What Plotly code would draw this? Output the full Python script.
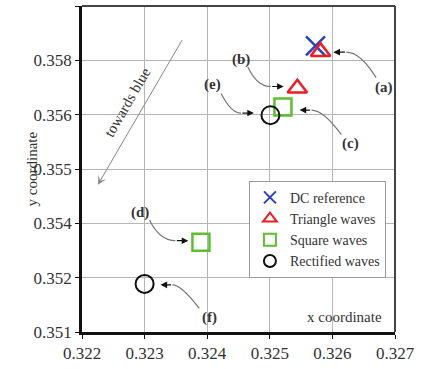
import plotly.graph_objects as go

# ---- data ----
dc_x = [0.32573]
dc_y = [0.35802]
tri_x = [0.32581, 0.32544]
tri_y = [0.35788, 0.35698]
sq_x = [0.32521, 0.32390]
sq_y = [0.35652, 0.35320]
rect_x = [0.32501, 0.32300]
rect_y = [0.35632, 0.35218]

x_ticks = [0.322, 0.323, 0.324, 0.325, 0.326, 0.327]
y_ticks = [0.351 + i * 0.008 / 6 for i in range(7)]
y_ticktext = ["0.351", "0.352", "0.354", "0.355", "0.356", "0.358", "0.359"]

# ---- layout geometry (pixels) ----
W_FIG, H_FIG = 421, 369
L, R, T, B = 82, 24, 6, 31
PW, PH = W_FIG - L - R, H_FIG - T - B
X0, X1 = 0.322, 0.327
Y0, Y1 = 0.351, 0.359


def px2x(px):
    return X0 + (px - L) / PW * (X1 - X0)


def py2y(py):
    return Y1 - (py - T) / PH * (Y1 - Y0)


SERIF = "Liberation Serif, Times New Roman, serif"
TXT = "#333333"

fig = go.Figure()
fig.add_trace(go.Scatter(x=dc_x, y=dc_y, mode="markers", name="DC reference",
                         marker=dict(symbol="x-thin-open", size=19, color="#2b3fc0",
                                     line=dict(width=2.5, color="#2b3fc0"))))
fig.add_trace(go.Scatter(x=tri_x, y=tri_y, mode="markers", name="Triangle waves",
                         marker=dict(symbol="triangle-up-open", size=17, color="#ee1c24",
                                     line=dict(width=2.5))))
fig.add_trace(go.Scatter(x=sq_x, y=sq_y, mode="markers", name="Square waves",
                         marker=dict(symbol="square-open", size=17, color="#5bbf2e",
                                     line=dict(width=2.5))))
fig.add_trace(go.Scatter(x=rect_x, y=rect_y, mode="markers", name="Rectified waves",
                         marker=dict(symbol="circle-open", size=18, color="#111111",
                                     line=dict(width=2))))

# annotation callouts: label, label pos, curve start, control, arrow tail, arrow tip (pixels)
callouts = [
    ("(a)", (386, 89), (378, 79), (362, 53), (348, 53), (335, 53)),
    ("(b)", (242, 60), (249, 68), (258, 88), (272, 88), (285, 88)),
    ("(e)", (213, 86), (222, 95), (232, 115), (242, 115), (255, 115)),
    ("(c)", (352, 146), (343, 137), (325, 112), (313, 112), (301, 112)),
    ("(d)", (140, 216), (150, 224), (160, 245), (176, 245), (189, 245)),
    ("(f)", (210, 323), (200, 314), (182, 290), (173, 290), (161, 290)),
]

shapes = []
annotations = []
for lab, lp, s, c, tail, tip in callouts:
    path = "M %f,%f Q %f,%f %f,%f" % (px2x(s[0]), py2y(s[1]), px2x(c[0]), py2y(c[1]),
                                       px2x(tail[0]), py2y(tail[1]))
    shapes.append(dict(type="path", path=path, xref="x", yref="y",
                       line=dict(color="#777777", width=1.2)))
    annotations.append(dict(x=px2x(tip[0]), y=py2y(tip[1]), xref="x", yref="y",
                            ax=tail[0] - tip[0], ay=tail[1] - tip[1], text="",
                            showarrow=True, arrowhead=2, arrowsize=1.1, arrowwidth=1.2,
                            arrowcolor="#111111"))
    annotations.append(dict(x=px2x(lp[0]), y=py2y(lp[1]), xref="x", yref="y",
                            text="<b>%s</b>" % lab, showarrow=False,
                            font=dict(family=SERIF, size=15, color=TXT)))

# towards blue arrow
annotations.append(dict(x=px2x(98), y=py2y(188), xref="x", yref="y",
                        ax=183 - 98, ay=42 - 188, text="", showarrow=True,
                        arrowhead=3, arrowsize=1.5, arrowwidth=1, arrowcolor="#888888"))
annotations.append(dict(x=px2x(128), y=py2y(104), xref="x", yref="y",
                        text="towards blue", textangle=-60, showarrow=False,
                        font=dict(family=SERIF, size=15, color=TXT)))
# axis titles
annotations.append(dict(x=px2x(346), y=py2y(323), xref="x", yref="y",
                        text="x coordinate", showarrow=False,
                        font=dict(family=SERIF, size=15, color=TXT)))
annotations.append(dict(x=(22 - L) / PW, y=(H_FIG - B - 172) / PH,
                        xref="paper", yref="paper",
                        text="y coordinate", showarrow=False, textangle=-90,
                        font=dict(family=SERIF, size=15, color=TXT)))

# top/right border
shapes.append(dict(type="line", xref="paper", yref="paper", x0=0, x1=1, y0=1, y1=1,
                   line=dict(color="#444444", width=2)))
shapes.append(dict(type="line", xref="paper", yref="paper", x0=1, x1=1, y0=0, y1=1,
                   line=dict(color="#444444", width=2)))

fig.update_layout(
    width=W_FIG, height=H_FIG,
    margin=dict(l=L, r=R, t=T, b=B),
    paper_bgcolor="white", plot_bgcolor="white",
    showlegend=True,
    legend=dict(x=(250 - L) / PW, y=(H_FIG - B - 184) / PH, xanchor="left", yanchor="top",
                bgcolor="white", bordercolor="#999999", borderwidth=1,
                font=dict(family=SERIF, size=14, color=TXT),
                itemsizing="constant", tracegroupgap=0),
    shapes=shapes,
    annotations=annotations,
)
fig.update_xaxes(range=[X0, X1], tickvals=x_ticks, ticktext=["%.3f" % v for v in x_ticks],
                 showgrid=True, gridcolor="#b5b5b5", gridwidth=1, zeroline=False,
                 showline=True, linecolor="#111111", linewidth=2.5,
                 ticks="outside", ticklen=4, tickcolor="#111111",
                 tickfont=dict(family=SERIF, size=17, color=TXT))
fig.update_yaxes(range=[Y0, Y1], tickvals=y_ticks, ticktext=y_ticktext,
                 showgrid=True, gridcolor="#b5b5b5", gridwidth=1, zeroline=False,
                 showline=True, linecolor="#111111", linewidth=2.5,
                 ticks="outside", ticklen=4, tickcolor="#111111",
                 tickfont=dict(family=SERIF, size=17, color=TXT))

fig.write_html("out.html")
